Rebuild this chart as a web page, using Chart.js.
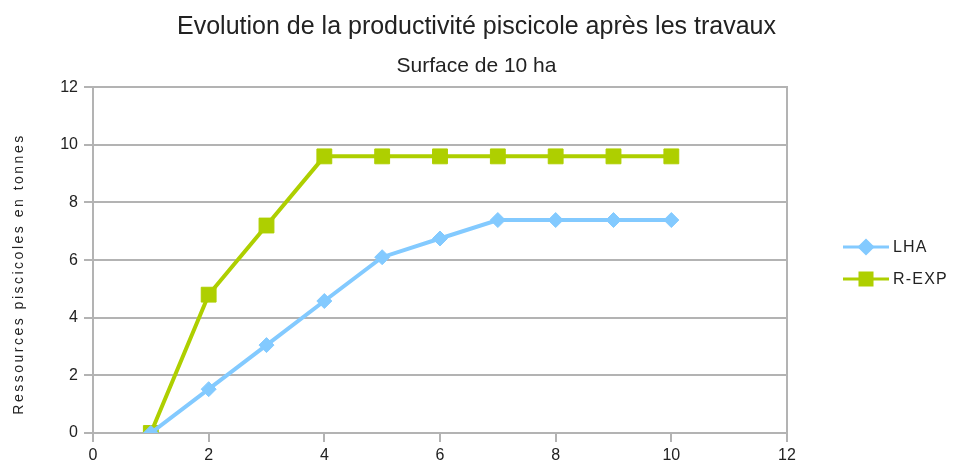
<!DOCTYPE html>
<html>
<head>
<meta charset="utf-8">
<script src="https://cdn.jsdelivr.net/npm/chart.js@4/dist/chart.umd.min.js"></script>
<style>
    html, body { margin: 0; padding: 0; background: #fff; }
    #wrap { width: 953px; height: 468px; }
</style>
</head>
<body>
<div id="wrap"><canvas id="chart"></canvas></div>
<script>
const years = [1, 2, 3, 4, 5, 6, 7, 8, 9, 10];
const lhaValues = [0, 1.52, 3.05, 4.58, 6.1, 6.75, 7.39, 7.39, 7.39, 7.39];
const rexpValues = [0, 4.8, 7.2, 9.6, 9.6, 9.6, 9.6, 9.6, 9.6, 9.6];
const seriesNames = ['LHA', 'R-EXP'];
const xTicks = [0, 2, 4, 6, 8, 10, 12];
const yTicks = [0, 2, 4, 6, 8, 10, 12];

const toPoints = (vals) => years.map((x, i) => ({ x: x, y: vals[i] }));

const blue = '#83caff';
const green = '#aecf00';
const gridColor = '#b3b3b3';
const textColor = '#222';
const font = 'Liberation Sans, Arial, sans-serif';

// legend + y title drawn by hand (line with marker, like the original)
const extras = {
    id: 'extras',
    afterDraw(chart) {
        const ctx = chart.ctx;
        ctx.save();
        chart.data.datasets.forEach((ds, i) => {
            const y = 247 + i * 32;
            ctx.strokeStyle = ds.borderColor;
            ctx.lineWidth = 3;
            ctx.beginPath();
            ctx.moveTo(843, y);
            ctx.lineTo(889, y);
            ctx.stroke();
            Chart.helpers.drawPoint(ctx, {
                pointStyle: ds.pointStyle,
                radius: ds.pointStyle === 'rect' ? 8.5 : 6.5,
                borderWidth: 1
            }, 866, y);
            ctx.fillStyle = ds.borderColor;
            ctx.fill();
            ctx.fillStyle = textColor;
            ctx.font = '16px ' + font;
            ctx.letterSpacing = '1.2px';
            ctx.textBaseline = 'middle';
            ctx.fillText(ds.label, 893, y + 1);
        });

        ctx.translate(19, 274);
        ctx.rotate(-Math.PI / 2);
        ctx.font = '14px ' + font;
        ctx.letterSpacing = '2.5px';
        ctx.textAlign = 'center';
        ctx.textBaseline = 'middle';
        ctx.fillStyle = textColor;
        ctx.fillText('Ressources piscicoles en tonnes', 0, 0);
        ctx.restore();
    }
};

new Chart(document.getElementById('chart'), {
    type: 'line',
    data: {
        datasets: [
            {
                label: seriesNames[0],
                data: toPoints(lhaValues),
                borderColor: blue,
                backgroundColor: blue,
                borderWidth: 4,
                pointStyle: 'rectRot',
                pointRadius: 7.5,
                pointBorderWidth: 1,
                tension: 0
            },
            {
                label: seriesNames[1],
                data: toPoints(rexpValues),
                borderColor: green,
                backgroundColor: green,
                borderWidth: 4,
                pointStyle: 'rect',
                pointRadius: 10.5,
                pointBorderWidth: 1,
                tension: 0
            }
        ]
    },
    options: {
        responsive: true,
        maintainAspectRatio: false,
        animation: false,
        layout: {
            padding: 0
        },
        plugins: {
            legend: { display: false },
            tooltip: { enabled: false },
            title: {
                display: true,
                text: 'Evolution de la productivité piscicole après les travaux',
                color: textColor,
                font: { family: font, size: 25, weight: 'normal' },
                padding: { top: 12, bottom: 6 }
            },
            subtitle: {
                display: true,
                text: 'Surface de 10 ha',
                color: textColor,
                font: { family: font, size: 21, weight: 'normal' },
                padding: { top: 6, bottom: 8 }
            }
        },
        scales: {
            x: {
                type: 'linear',
                min: 0,
                max: 12,
                afterBuildTicks: (axis) => { axis.ticks = xTicks.map(v => ({ value: v })); },
                afterFit: (axis) => { axis.height = 35; },
                ticks: { color: textColor, font: { family: font, size: 16 }, padding: 4, maxRotation: 0 },
                grid: { display: true, drawOnChartArea: false, color: gridColor, lineWidth: 2, tickLength: 9 },
                border: { color: gridColor, width: 2 }
            },
            y: {
                min: 0,
                max: 12,
                afterBuildTicks: (axis) => { axis.ticks = yTicks.map(v => ({ value: v })); },
                afterFit: (axis) => { axis.width = 93; },
                ticks: { color: textColor, font: { family: font, size: 16 }, padding: 6 },
                grid: { color: gridColor, lineWidth: 2, tickLength: 9 },
                border: { color: gridColor, width: 2 }
            },
            yRight: {
                position: 'right',
                min: 0,
                max: 12,
                afterFit: (axis) => { axis.width = 166; },
                ticks: { display: false },
                grid: { drawOnChartArea: false, drawTicks: false },
                border: { color: gridColor, width: 2 }
            }
        }
    },
    plugins: [extras]
});
</script>
</body>
</html>
